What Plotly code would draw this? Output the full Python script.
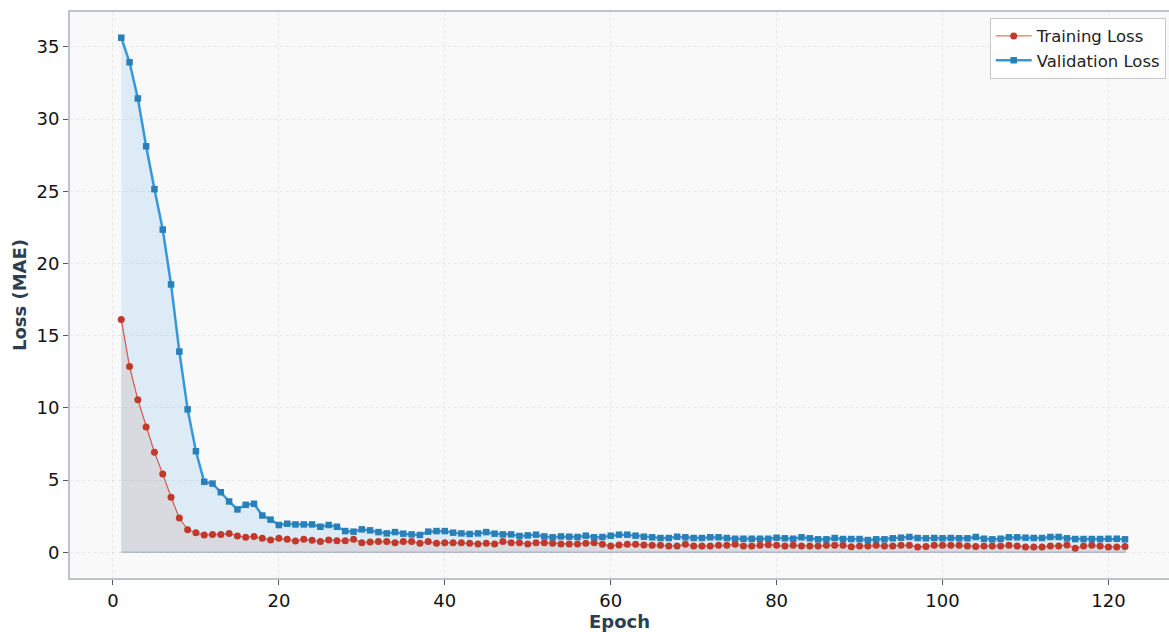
import plotly.graph_objects as go

epochs = list(range(1, 123))

train_loss = [
    16.13, 12.86, 10.56, 8.68, 6.93, 5.43, 3.82, 2.37, 1.57, 1.36, 1.20, 1.24, 1.24, 1.31, 1.13, 1.04, 1.10, 0.97, 0.85, 0.97, 0.90, 0.78,
    0.90, 0.83, 0.74, 0.85, 0.80, 0.80, 0.90, 0.67, 0.71, 0.74, 0.74, 0.67, 0.74, 0.74, 0.62, 0.74, 0.62, 0.67, 0.67, 0.67, 0.62, 0.57,
    0.62, 0.57, 0.74, 0.67, 0.67, 0.57, 0.67, 0.67, 0.62, 0.57, 0.57, 0.57, 0.62, 0.67,
    0.55, 0.44, 0.51, 0.55, 0.55, 0.51, 0.48, 0.48, 0.44, 0.44, 0.55, 0.44, 0.44, 0.44, 0.48, 0.48, 0.55, 0.44, 0.44, 0.48, 0.53, 0.48,
    0.44, 0.48, 0.44, 0.44, 0.44, 0.48, 0.48, 0.48, 0.39, 0.44, 0.44, 0.48, 0.44,
    0.44, 0.48, 0.48, 0.37, 0.41, 0.48, 0.48, 0.48, 0.48, 0.44, 0.41, 0.44, 0.44, 0.44, 0.48, 0.44, 0.37, 0.37, 0.37, 0.44, 0.44, 0.51,
    0.28, 0.44, 0.48, 0.44, 0.37, 0.37, 0.41,
]

val_loss = [
    35.64, 33.94, 31.43, 28.12, 25.15, 22.35, 18.55, 13.90, 9.90, 7.00, 4.88, 4.76, 4.16, 3.52, 2.97, 3.29, 3.36, 2.55, 2.26, 1.89, 1.98, 1.93,
    1.93, 1.93, 1.77, 1.89, 1.77, 1.47, 1.43, 1.59, 1.52, 1.40, 1.31, 1.40, 1.29, 1.24, 1.20, 1.43, 1.47, 1.47, 1.36, 1.31,
    1.27, 1.31, 1.40, 1.29, 1.24, 1.24, 1.13, 1.17, 1.22, 1.10, 1.04, 1.10, 1.08, 1.06, 1.15, 1.04,
    1.06, 1.15, 1.22, 1.22, 1.15, 1.08, 1.04, 0.99, 0.99, 1.08, 1.04, 0.99, 0.99, 1.04, 1.04, 0.99, 0.94, 0.94, 0.94, 0.94, 0.94, 1.01,
    0.97, 0.94, 1.04, 0.97, 0.90, 0.90, 0.99, 0.92, 0.92, 0.92, 0.85, 0.90, 0.90,
    0.97, 1.01, 1.06, 0.99, 0.97, 0.99, 0.97, 0.99, 0.97, 0.97, 1.06, 0.94, 0.90, 0.94, 1.04, 1.04, 1.01, 0.99, 0.99, 1.06, 1.06, 0.97,
    0.92, 0.92, 0.92, 0.92, 0.94, 0.94, 0.90,
]

x_ticks = [0, 20, 40, 60, 80, 100, 120]
y_ticks = [0, 5, 10, 15, 20, 25, 30, 35]

FONT = "DejaVu Sans"
TITLE_COLOR = "#2c3e50"

fig = go.Figure()

# filled areas (polygons closed at zero, like fill_between)
poly_x = epochs + [epochs[-1], epochs[0]]
fig.add_trace(go.Scatter(
    x=poly_x, y=val_loss + [0, 0], mode="lines", fill="toself",
    fillcolor="rgba(52,152,219,0.15)", line=dict(color="rgba(52,152,219,0.2)", width=1),
    showlegend=False, hoverinfo="skip"))
fig.add_trace(go.Scatter(
    x=poly_x, y=train_loss + [0, 0], mode="lines", fill="toself",
    fillcolor="rgba(192,57,43,0.1)", line=dict(color="rgba(130,125,145,0.35)", width=1.5),
    showlegend=False, hoverinfo="skip"))

fig.add_trace(go.Scatter(
    x=epochs, y=train_loss, mode="lines+markers", name="Training Loss",
    line=dict(color="#e74c3c", width=1),
    marker=dict(symbol="circle", size=7, color="#c0392b")))
fig.add_trace(go.Scatter(
    x=epochs, y=val_loss, mode="lines+markers", name="Validation Loss",
    line=dict(color="#3498db", width=2.5),
    marker=dict(symbol="square", size=6.5, color="#2980b9")))

axis_common = dict(
    showline=True, linecolor="#bdc3c7", linewidth=2, automargin=False,
    showgrid=True, gridcolor="rgba(190,190,190,0.3)", griddash="3px,3px", gridwidth=0.7,
    zeroline=False, ticks="outside", ticklen=5, tickwidth=1, tickcolor="#555",
    tickfont=dict(family=FONT, size=18, color="#111"),
)

fig.update_xaxes(
    range=[-5.18, 127.3], tickvals=x_ticks, mirror=True,
    title=dict(text="<b>Epoch</b>", font=dict(family=FONT, size=18, color=TITLE_COLOR), standoff=2),
    **axis_common)
fig.update_yaxes(
    range=[-1.78, 37.42], tickvals=y_ticks, mirror=False,
    title=dict(text="<b>Loss (MAE)</b>", font=dict(family=FONT, size=18, color=TITLE_COLOR), standoff=5),
    **axis_common)

fig.update_layout(
    width=1169, height=632,
    margin=dict(l=70, r=0, t=12, b=54),
    paper_bgcolor="#ffffff", plot_bgcolor="#f9f9f9",
    font=dict(family=FONT),
    legend=dict(
        x=0.997, y=0.99, xanchor="right", yanchor="top",
        bgcolor="rgba(255,255,255,0.97)", bordercolor="#c8c8c8", borderwidth=1,
        font=dict(family=FONT, size=16.5, color="#222"),
        itemwidth=36,
    ),
)

fig.write_html(
    "out.html",
    config={"displayModeBar": False},
    post_script="document.body.style.margin='0';document.body.style.overflow='hidden';",
)
